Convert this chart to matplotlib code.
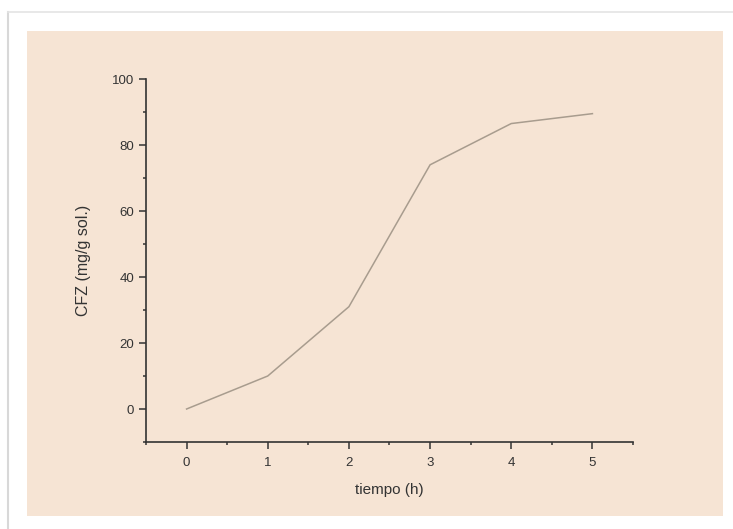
import matplotlib
matplotlib.use("Agg")
import matplotlib.pyplot as plt
from matplotlib.patches import Rectangle
from matplotlib.lines import Line2D
from matplotlib.ticker import MultipleLocator

tiempo = [0, 1, 2, 3, 4, 5]
cfz = [0, 10, 31, 74, 86.5, 89.5]

plt.rcParams['font.family'] = ['Liberation Sans', 'DejaVu Sans']

fig = plt.figure(figsize=(7.33, 5.29), dpi=100)
fig.patch.set_facecolor('white')

# marco tipo tarjeta + fondo beige
fig.add_artist(Line2D([8/733, 8/733], [0, 1 - 12/529], color='#d8d8d8', lw=1.5))
fig.add_artist(Line2D([8/733, 1], [1 - 12/529, 1 - 12/529], color='#e4e4e4', lw=1.2))
fig.add_artist(Rectangle((27/733, 13/529), 696/733, 485/529, facecolor='#f6e4d4',
                         edgecolor='none', transform=fig.transFigure, zorder=0))

ax = fig.add_axes([146/733, 87/529, 487/733, 363/529])
ax.set_facecolor('none')
ax.plot(tiempo, cfz, color='#a89c8e', lw=1.1)

ax.set_xlim(-0.5, 5.5)
ax.set_ylim(-10, 100)
ax.xaxis.set_major_locator(MultipleLocator(1))
ax.xaxis.set_minor_locator(MultipleLocator(0.5))
ax.yaxis.set_major_locator(MultipleLocator(20))
ax.yaxis.set_minor_locator(MultipleLocator(10))

for s in ['top', 'right']:
    ax.spines[s].set_visible(False)
for s in ['left', 'bottom']:
    ax.spines[s].set_color('#333333')
    ax.spines[s].set_linewidth(1.2)

ax.tick_params(which='major', direction='out', length=5, width=1.1, color='#333333',
               labelsize=9.5, labelcolor='#333333')
ax.tick_params(axis='x', which='major', pad=6)
ax.tick_params(which='minor', direction='out', length=2.5, width=1.1, color='#333333')

ax.set_xlabel('tiempo (h)', fontsize=11, color='#333333', labelpad=10)
ax.set_ylabel('CFZ (mg/g sol.)', fontsize=11.5, color='#333333', labelpad=15)

fig.savefig('out.png', dpi=100)
